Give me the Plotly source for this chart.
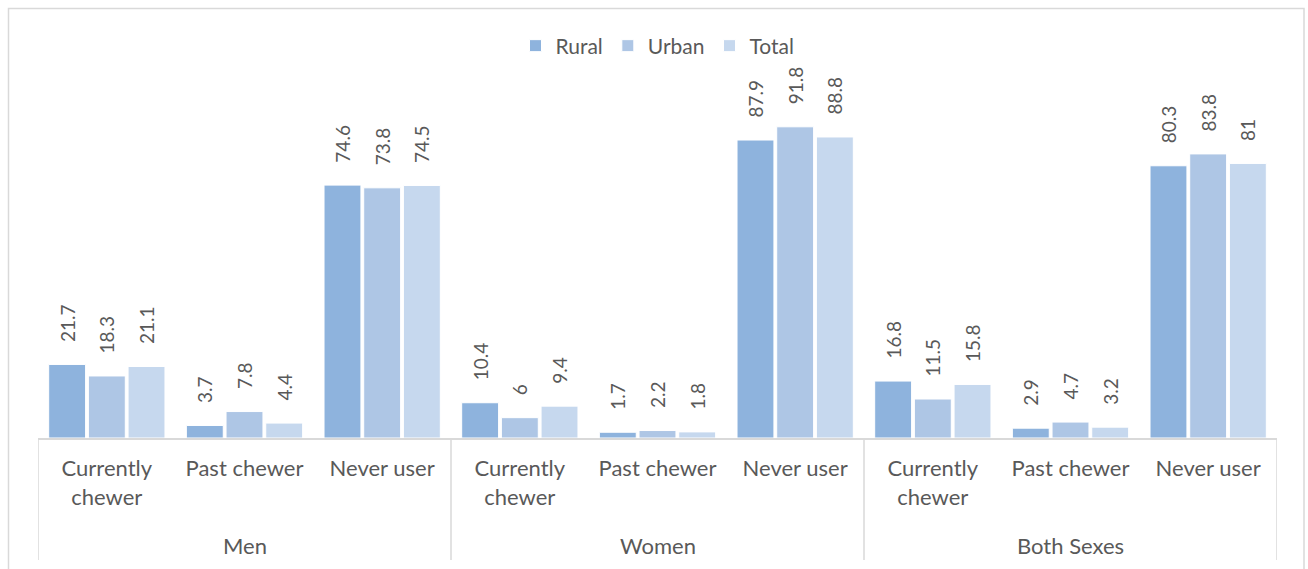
import plotly.graph_objects as go

# Chewing-tobacco status by sex and residence (%)
sexes = ["Men", "Women", "Both Sexes"]
statuses = ["Currently<br>chewer", "Past chewer", "Never user"]

rural = [21.7, 3.7, 74.6, 10.4, 1.7, 87.9, 16.8, 2.9, 80.3]
urban = [18.3, 7.8, 73.8, 6, 2.2, 91.8, 11.5, 4.7, 83.8]
total = [21.1, 4.4, 74.5, 9.4, 1.8, 88.8, 15.8, 3.2, 81]

series = [("Rural", rural, "#8EB3DD"),
          ("Urban", urban, "#AEC6E5"),
          ("Total", total, "#C6D8EE")]

ticktext = [s for _ in sexes for s in statuses]
xpos = list(range(len(ticktext)))
n_stat = len(statuses)

FONT = "Lato, Carlito, 'Open Sans', sans-serif"
TXT = "#595959"
LINE = "#D9D9D9"
PAD = "\u00a0" * 4  # keeps value labels clear of the bar tops

fig = go.Figure()
for name, vals, col in series:
    fig.add_trace(go.Bar(
        name=name,
        x=xpos,
        y=vals,
        marker=dict(color=col, line=dict(color="white", width=1)),
        text=[f"{PAD}{v:g}" for v in vals],
        textposition="outside",
        textangle=-90,
        constraintext="none",
        textfont=dict(family=FONT, size=19, color=TXT),
        cliponaxis=False,
    ))

PLOT_L, PLOT_R, AXIS_Y, PLOT_TOP = 38, 1277, 438, 99
plot_w = PLOT_R - PLOT_L
plot_h = AXIS_Y - PLOT_TOP

fig.update_layout(
    width=1308, height=569,
    barmode="group",
    bargap=0.135,
    bargroupgap=0.07,
    plot_bgcolor="white",
    paper_bgcolor="white",
    margin=dict(l=PLOT_L, r=1308 - PLOT_R, t=PLOT_TOP, b=569 - AXIS_Y),
    font=dict(family=FONT, size=21, color=TXT),
    legend=dict(orientation="h", x=0.5, xanchor="center",
                y=(AXIS_Y - 46) / plot_h, yanchor="middle",
                font=dict(family=FONT, size=21, color=TXT),
                itemwidth=30, traceorder="normal"),
    showlegend=True,
)
fig.update_xaxes(
    range=[-0.5, len(xpos) - 0.5],
    tickvals=xpos, ticktext=ticktext,
    showline=True, linecolor=LINE, linewidth=1.5,
    showgrid=False, zeroline=False,
    ticks="", ticklabelstandoff=10,
    tickfont=dict(family=FONT, size=22, color=TXT),
)
fig.update_yaxes(range=[0, 100], visible=False, showgrid=False)

# group dividers below the axis and group names
div_bottom = (AXIS_Y - 560) / plot_h
for k in range(len(sexes) + 1):
    xd = k * n_stat - 0.5
    fig.add_shape(type="line", xref="x", yref="paper",
                  x0=xd, x1=xd, y0=0, y1=div_bottom,
                  line=dict(color=LINE, width=1.5))
for k, s in enumerate(sexes):
    fig.add_annotation(text=s, xref="x", yref="paper",
                       x=k * n_stat + (n_stat - 1) / 2,
                       y=(AXIS_Y - 545) / plot_h, yanchor="middle",
                       showarrow=False,
                       font=dict(family=FONT, size=22, color=TXT))

# light frame around the chart area
fig.add_shape(type="rect", xref="paper", yref="paper",
              x0=(8.5 - PLOT_L) / plot_w, x1=(1304 - PLOT_L) / plot_w,
              y0=-1, y1=(AXIS_Y - 8.5) / plot_h,
              line=dict(color=LINE, width=1.5), layer="below")

fig.write_html("out.html")
